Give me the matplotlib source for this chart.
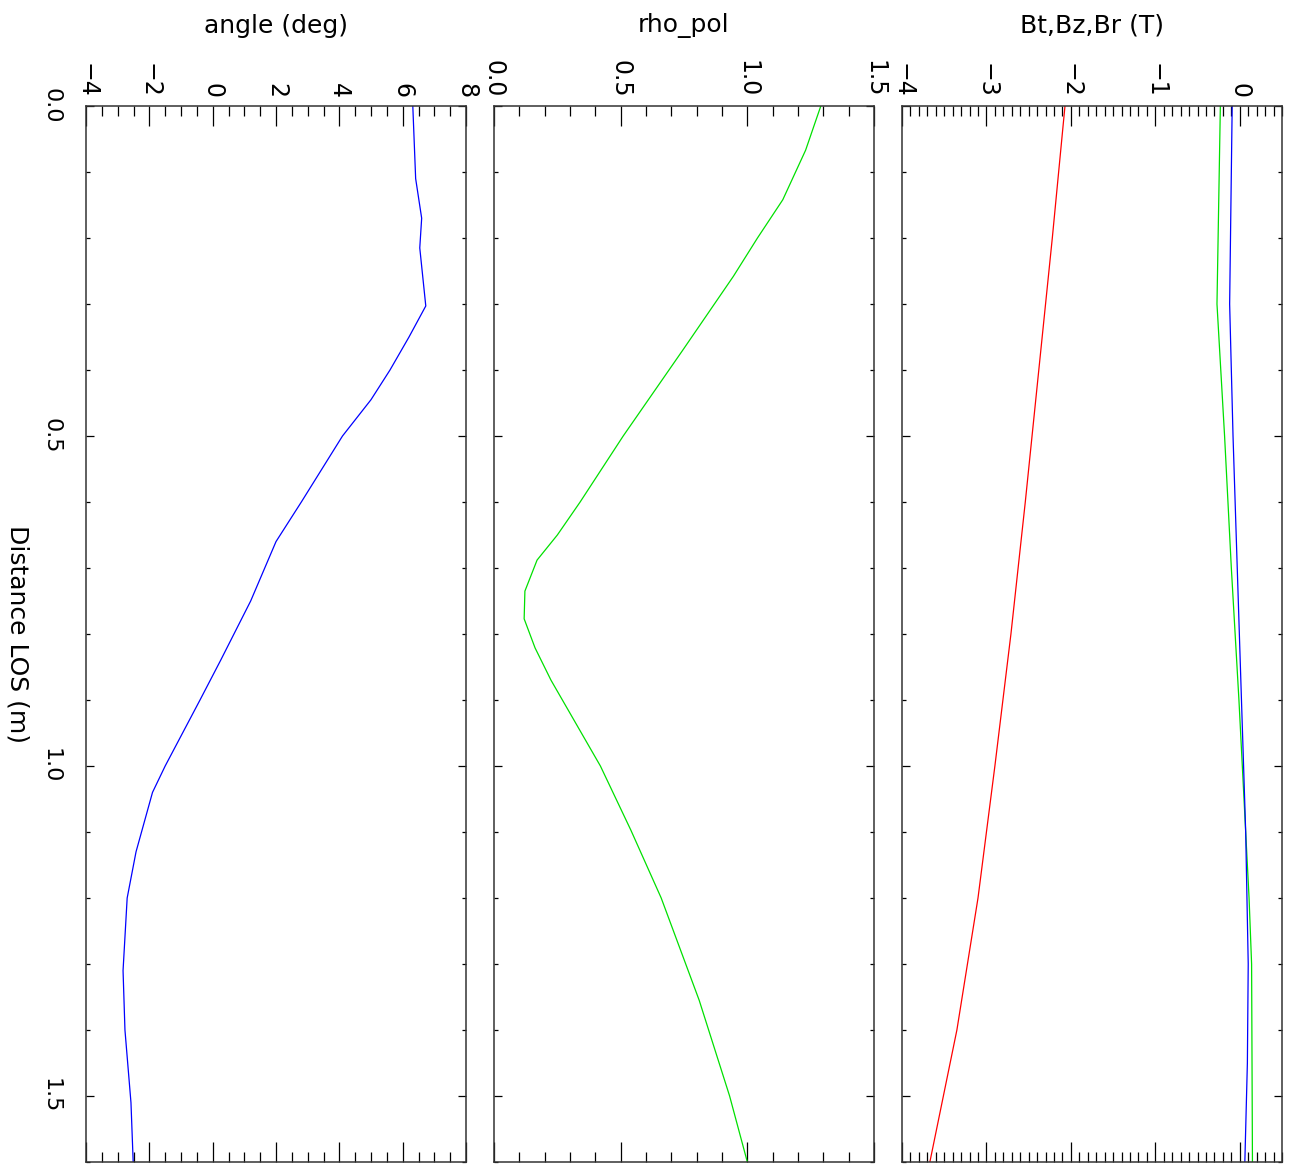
import matplotlib
matplotlib.use("Agg")
import matplotlib.pyplot as plt
from matplotlib.ticker import MultipleLocator

# --- data ---
angleDist = [0.0, 0.11, 0.17, 0.215, 0.303, 0.35, 0.40, 0.445, 0.5, 0.6, 0.66,
             0.75, 0.84, 0.9, 1.0, 1.04, 1.13, 1.2, 1.31, 1.4, 1.51, 1.6]
angleVal = [6.32, 6.41, 6.60, 6.54, 6.73, 6.2, 5.6, 5.0, 4.1, 2.8, 2.0,
            1.2, 0.25, -0.4, -1.5, -1.9, -2.42, -2.7, -2.83, -2.77, -2.58, -2.51]

rhoDist = [0.0, 0.067, 0.142, 0.2, 0.258, 0.37, 0.5, 0.6, 0.65, 0.688, 0.735,
           0.777, 0.821, 0.87, 1.0, 1.097, 1.2, 1.355, 1.5, 1.6]
rhoVal = [1.29, 1.23, 1.14, 1.04, 0.945, 0.745, 0.51, 0.34, 0.25, 0.17, 0.122,
          0.119, 0.162, 0.225, 0.42, 0.54, 0.66, 0.81, 0.93, 1.0]

btDist = [0.0, 0.2, 0.4, 0.6, 0.8, 1.0, 1.2, 1.4, 1.6]
btVal = [-2.07, -2.22, -2.38, -2.54, -2.71, -2.9, -3.1, -3.35, -3.67]

bzDist = [0.0, 0.3, 0.5, 0.7, 0.9, 1.1, 1.2, 1.3, 1.6]
bzVal = [-0.23, -0.27, -0.18, -0.10, -0.01, 0.07, 0.11, 0.14, 0.15]

brDist = [0.0, 0.3, 0.5, 0.7, 0.9, 1.1, 1.3, 1.45, 1.6]
brVal = [-0.09, -0.12, -0.08, -0.03, 0.02, 0.07, 0.10, 0.09, 0.06]

titles = ["angle (deg)", "rho_pol", "Bt,Bz,Br (T)"]
xlims = [(-4, 8), (0, 1.5), (-4, 0.5)]
xmajor = [[-4, -2, 0, 2, 4, 6, 8], [0.0, 0.5, 1.0, 1.5], [-4, -3, -2, -1, 0]]
xminor = [0.5, 0.1, 0.1]
distTicks = [0.0, 0.5, 1.0, 1.5]

W, H = 1293, 1164
fig = plt.figure(figsize=(W / 100, H / 100), dpi=100)
plt.rcParams['font.family'] = ['DejaVu Sans']


def fmt(v, dec):
    s = f"{v:.{dec}f}"
    return s.replace("-", "\u2212")


top, bottom = 106, 1162
lefts = [86, 494, 902]
pw = 380

axes = []
for i, left in enumerate(lefts):
    ax = fig.add_axes([left / W, 1 - bottom / H, pw / W, (bottom - top) / H])
    ax.set_xlim(*xlims[i])
    ax.set_ylim(1.6, 0.0)
    dec = 1 if i == 1 else 0
    ax.set_xticks(xmajor[i])
    ax.set_xticklabels([fmt(v, dec) for v in xmajor[i]])
    ax.xaxis.set_minor_locator(MultipleLocator(xminor[i]))
    ax.set_yticks(distTicks)
    ax.set_yticklabels([fmt(v, 1) for v in distTicks])
    ax.yaxis.set_minor_locator(MultipleLocator(0.1))
    ax.tick_params(axis='x', which='both', direction='in', top=True, bottom=True,
                   labeltop=True, labelbottom=False, labelrotation=-90,
                   labelsize=17, pad=6)
    ax.tick_params(axis='x', which='major', length=14.5, width=0.9)
    ax.tick_params(axis='x', which='minor', length=7, width=0.9)
    ax.tick_params(axis='y', which='both', direction='in', left=True, right=True,
                   labelleft=(i == 0), labelright=False, labelrotation=-90,
                   labelsize=16, pad=18)
    ax.tick_params(axis='y', which='major', length=6, width=0.9)
    ax.tick_params(axis='y', which='minor', length=3, width=0.9)
    for sp in ax.spines.values():
        sp.set_linewidth(1.1)
        sp.set_color('#333333')
    fig.text((left + pw / 2) / W, 1 - 26 / H, titles[i], ha='center', va='center',
             fontsize=18)
    axes.append(ax)

for lab in axes[0].get_yticklabels():
    lab.set_va('center')

axes[0].plot(angleVal, angleDist, color='#0000ff', lw=0.9)
axes[1].plot(rhoVal, rhoDist, color='#00e000', lw=0.9)
axes[2].plot(btVal, btDist, color='#ff0000', lw=0.9)
axes[2].plot(bzVal, bzDist, color='#00e000', lw=0.9)
axes[2].plot(brVal, brDist, color='#0000ff', lw=0.9)

fig.text(17 / W, 1 - 634 / H, "Distance LOS (m)", rotation=-90, ha='center',
         va='center', fontsize=18)

fig.savefig("out.png", dpi=100)
